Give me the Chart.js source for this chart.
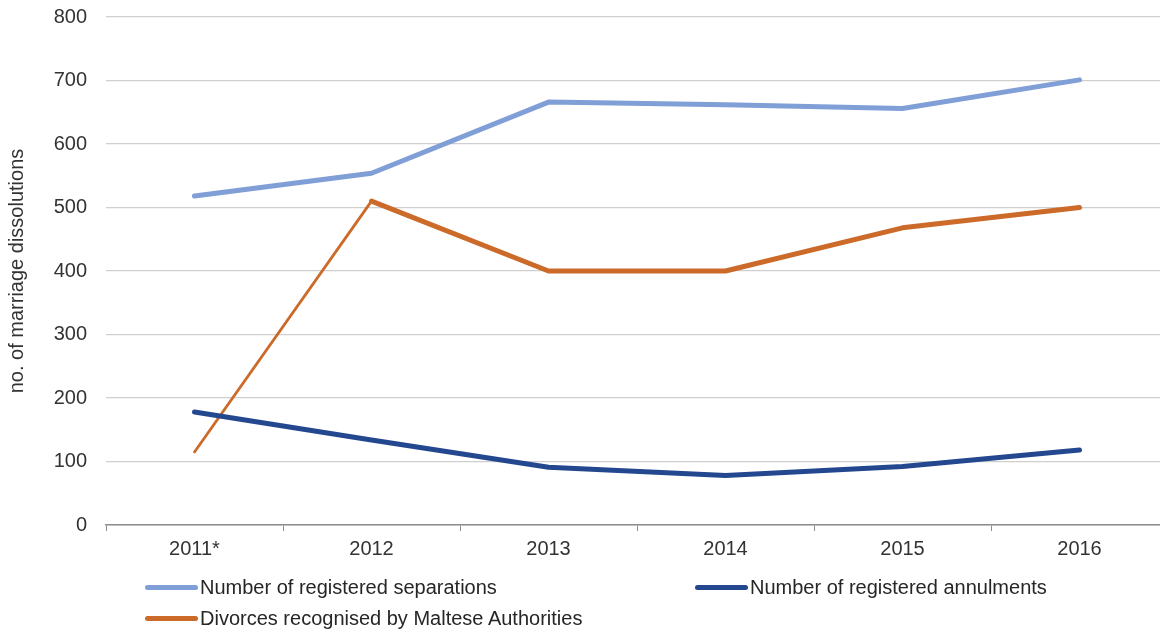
<!DOCTYPE html>
<html>
<head>
<meta charset="utf-8">
<script src="https://cdn.jsdelivr.net/npm/chart.js@4.4.1/dist/chart.umd.min.js"></script>
<style>
  html, body { margin: 0; padding: 0; background: #fff; overflow: hidden; }
  #wrap { position: relative; width: 1180px; height: 632px; }
  #legend { position: absolute; left: 0; top: 0; width: 1160px; height: 632px; pointer-events: none;
            font-family: "Liberation Sans", Arial, sans-serif; font-size: 20px; color: #262626; }
  .item { position: absolute; display: flex; align-items: center; white-space: nowrap; }
  .swatch { width: 53px; height: 5px; border-radius: 3px; margin-right: 2px; }
</style>
</head>
<body>
<div id="wrap">
  <canvas id="chart" width="1180" height="632"></canvas>
  <div id="legend"></div>
</div>
<script>
// categories and values
const years = ["2011*", "2012", "2013", "2014", "2015", "2016"];
const separations = [518, 554, 666, 662, 656, 701];
const annulments = [178, 134, 91, 78, 92, 118];
const divorces = [115, 510, 400, 400, 468, 500];

const seriesNames = [
  "Number of registered separations",
  "Number of registered annulments",
  "Divorces recognised by Maltese Authorities"
];
const seriesColors = ["#7f9fd6", "#24488f", "#cc6a2a"];

const fontFamily = "'Liberation Sans', Arial, sans-serif";

const ctx = document.getElementById("chart").getContext("2d");

const myChart = new Chart(ctx, {
  type: "line",
  data: {
    labels: years,
    datasets: [
      { label: seriesNames[0], data: separations, borderColor: seriesColors[0] },
      { label: seriesNames[1], data: annulments, borderColor: seriesColors[1] },
      {
        label: seriesNames[2], data: divorces, borderColor: seriesColors[2],
        // first segment is drawn thinner in the source
        segment: { borderWidth: (c) => (c.p0DataIndex === 0 ? 2.8 : 5) }
      }
    ]
  },
  options: {
    responsive: false,
    animation: false,
    layout: { padding: { top: 17, right: 12, left: 0, bottom: 0 } },
    elements: {
      point: { radius: 0 },
      line: { borderWidth: 5, tension: 0, borderCapStyle: "round", borderJoinStyle: "round" }
    },
    plugins: { legend: { display: false }, tooltip: { enabled: false } },
    scales: {
      x: {
        offset: true,
        grid: { offset: true, drawOnChartArea: false, tickLength: 6, color: "#8c8c8c", lineWidth: 1 },
        border: { color: "#8c8c8c", width: 1.5 },
        ticks: { color: "#333", padding: 6, font: { family: fontFamily, size: 20 } },
        afterFit: (scale) => { scale.height = 107; }
      },
      y: {
        min: 0,
        max: 800,
        ticks: { stepSize: 100, color: "#333", padding: 19, font: { family: fontFamily, size: 20 } },
        grid: { color: "#cfcfcf", lineWidth: 1.2, drawTicks: false },
        border: { display: false },
        title: {
          display: true,
          text: "no. of marriage dissolutions",
          color: "#333",
          padding: { top: 5, bottom: 0 },
          font: { family: fontFamily, size: 20 }
        },
        afterFit: (scale) => {
          scale.width = 106;
          scale.paddingTop = 0;
          scale.paddingBottom = 0;
        }
      }
    }
  }
});

// legend laid out like the source: two columns, left aligned
const legendSlots = [
  { left: 145, top: 587 },
  { left: 695, top: 587 },
  { left: 145, top: 618 }
];
const legendBox = document.getElementById("legend");
seriesNames.forEach((name, i) => {
  const item = document.createElement("div");
  item.className = "item";
  item.style.left = legendSlots[i].left + "px";
  item.style.top = (legendSlots[i].top - 12) + "px";
  item.style.height = "24px";
  const sw = document.createElement("span");
  sw.className = "swatch";
  sw.style.background = seriesColors[i];
  const txt = document.createElement("span");
  txt.textContent = name;
  item.appendChild(sw);
  item.appendChild(txt);
  legendBox.appendChild(item);
});
</script>
</body>
</html>
